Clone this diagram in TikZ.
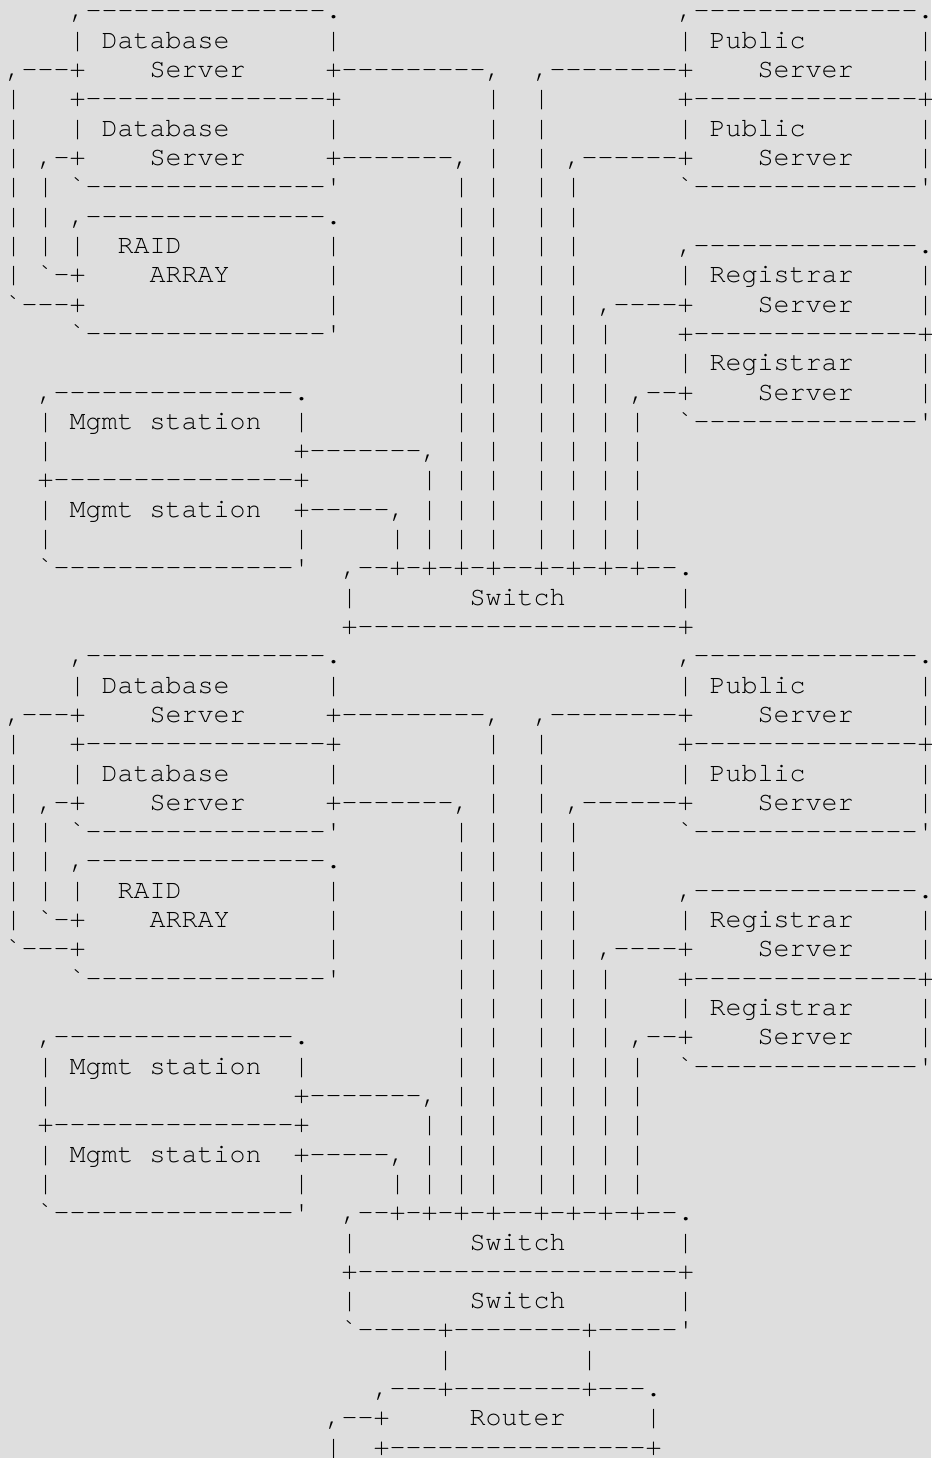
\documentclass[tikz,border=0pt]{standalone}
\usepackage{fontspec}
\setmonofont{TeX Gyre Cursor}
\definecolor{bg}{RGB}{222,222,222}
\definecolor{ink}{RGB}{0,0,0}
\tikzset{asc/.style={anchor=base west, inner sep=0pt, outer sep=0pt, text=ink,
  font=\ttfamily\fontsize{26.77}{29.4}\selectfont}}
\newcommand\putseg[3]{\node[asc] (\pfx-#1-#2) at ({5.7+16*#2},{19+29.31*(#1+\yo)}) {#3};}
\newcommand\putpipes[2]{\foreach \c in {#2} {\putseg{#1}{\c}{|}}}
\newcommand\drawblock{%
  % line 0
  \putseg{0}{4}{,---------------.}
  \putseg{0}{42}{,--------------.}
  % line 1
  \putseg{1}{4}{|}\putseg{1}{6}{Database}\putseg{1}{20}{|}
  \putseg{1}{42}{|}\putseg{1}{44}{Public}\putseg{1}{57}{|}
  % line 2
  \putseg{2}{0}{,---+}\putseg{2}{9}{Server}\putseg{2}{20}{+---------,}
  \putseg{2}{33}{,--------+}\putseg{2}{47}{Server}\putseg{2}{57}{|}
  % line 3
  \putseg{3}{0}{|}\putseg{3}{4}{+---------------+}\putpipes{3}{30,33}
  \putseg{3}{42}{+--------------+}
  % line 4
  \putseg{4}{0}{|}\putseg{4}{4}{|}\putseg{4}{6}{Database}\putseg{4}{20}{|}
  \putpipes{4}{30,33}\putseg{4}{42}{|}\putseg{4}{44}{Public}\putseg{4}{57}{|}
  % line 5
  \putseg{5}{0}{|}\putseg{5}{2}{,-+}\putseg{5}{9}{Server}\putseg{5}{20}{+-------,}
  \putpipes{5}{30,33}\putseg{5}{35}{,------+}\putseg{5}{47}{Server}\putseg{5}{57}{|}
  % line 6
  \putpipes{6}{0,2}\putseg{6}{4}{`---------------'}\putpipes{6}{28,30,33,35}
  \putseg{6}{42}{`--------------'}
  % line 7
  \putpipes{7}{0,2}\putseg{7}{4}{,---------------.}\putpipes{7}{28,30,33,35}
  % line 8
  \putpipes{8}{0,2,4}\putseg{8}{7}{RAID}\putpipes{8}{20,28,30,33,35}
  \putseg{8}{42}{,--------------.}
  % line 9
  \putseg{9}{0}{|}\putseg{9}{2}{`-+}\putseg{9}{9}{ARRAY}\putpipes{9}{20,28,30,33,35,42}
  \putseg{9}{44}{Registrar}\putseg{9}{57}{|}
  % line 10
  \putseg{10}{0}{`---+}\putpipes{10}{20,28,30,33,35}\putseg{10}{37}{,----+}
  \putseg{10}{47}{Server}\putseg{10}{57}{|}
  % line 11
  \putseg{11}{4}{`---------------'}\putpipes{11}{28,30,33,35,37}
  \putseg{11}{42}{+--------------+}
  % line 12
  \putpipes{12}{28,30,33,35,37,42}\putseg{12}{44}{Registrar}\putseg{12}{57}{|}
  % line 13
  \putseg{13}{2}{,---------------.}\putpipes{13}{28,30,33,35,37}\putseg{13}{39}{,--+}
  \putseg{13}{47}{Server}\putseg{13}{57}{|}
  % line 14
  \putseg{14}{2}{|}\putseg{14}{4}{Mgmt station}\putpipes{14}{18,28,30,33,35,37,39}
  \putseg{14}{42}{`--------------'}
  % line 15
  \putseg{15}{2}{|}\putseg{15}{18}{+-------,}\putpipes{15}{28,30,33,35,37,39}
  % line 16
  \putseg{16}{2}{+---------------+}\putpipes{16}{26,28,30,33,35,37,39}
  % line 17
  \putseg{17}{2}{|}\putseg{17}{4}{Mgmt station}\putseg{17}{18}{+-----,}
  \putpipes{17}{26,28,30,33,35,37,39}
  % line 18
  \putpipes{18}{2,18,24,26,28,30,33,35,37,39}
  % line 19
  \putseg{19}{2}{`---------------'}\putseg{19}{21}{,--+-+-+-+--+-+-+-+--.}
}
\begin{document}
\begin{tikzpicture}[x=1bp,y=-1bp]
  \fill[bg] (0,0) rectangle (931,1458);
  \useasboundingbox (0,0) rectangle (931,1458);
  % upper block
  \def\pfx{A}\def\yo{0}
  \drawblock
  \putseg{20}{21}{|}\putseg{20}{29}{Switch}\putseg{20}{42}{|}
  \putseg{21}{21}{+--------------------+}
  % lower block
  \def\pfx{B}\def\yo{22}
  \drawblock
  \def\pfx{C}\def\yo{0}
  \putseg{42}{21}{|}\putseg{42}{29}{Switch}\putseg{42}{42}{|}
  \putseg{43}{21}{+--------------------+}
  \putseg{44}{21}{|}\putseg{44}{29}{Switch}\putseg{44}{42}{|}
  \putseg{45}{21}{`-----+--------+-----'}
  \putpipes{46}{27,36}
  \putseg{47}{23}{,---+--------+---.}
  \putseg{48}{20}{,--+}\putseg{48}{29}{Router}\putseg{48}{40}{|}
  \putseg{49}{20}{|}\putseg{49}{23}{+----------------+}
\end{tikzpicture}
\end{document}
